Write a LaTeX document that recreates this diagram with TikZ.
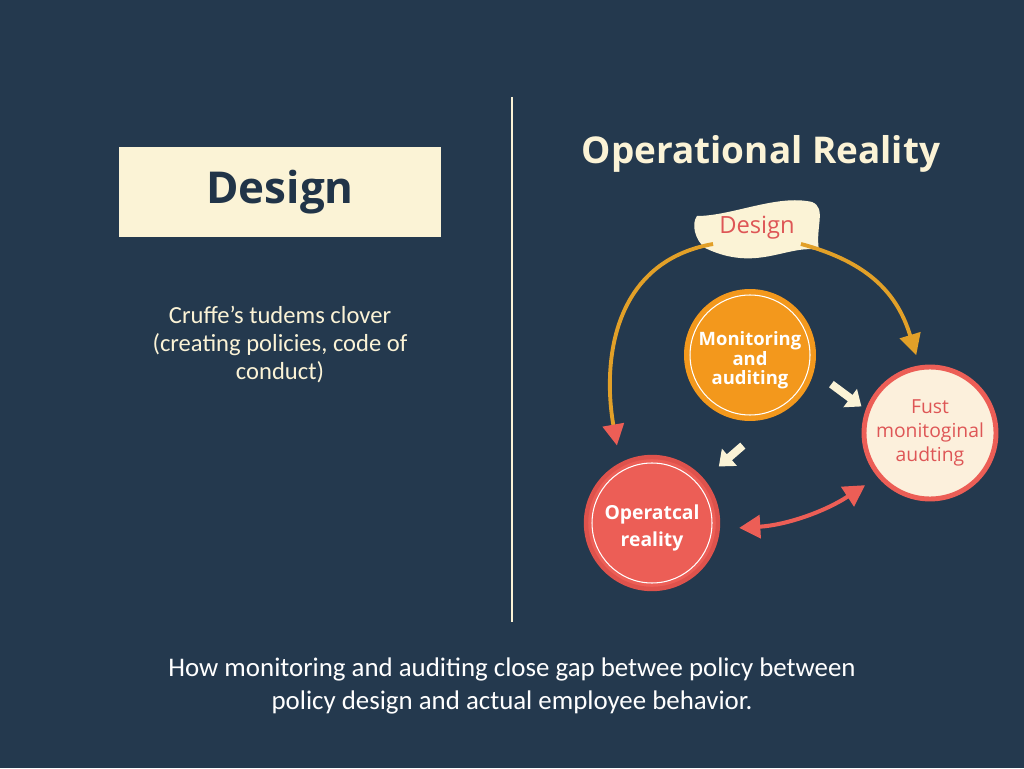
\documentclass[tikz,border=0pt]{standalone}
\usepackage{fontspec}
\setmainfont{Carlito}
\newfontfamily\headfont{Open Sans}
\usetikzlibrary{positioning,calc,arrows.meta}
\definecolor{bgnavy}{RGB}{36,57,78}
\definecolor{cream}{RGB}{251,243,214}
\definecolor{boxnavy}{RGB}{33,52,72}
\definecolor{monorange}{RGB}{243,152,28}
\definecolor{arcorange}{RGB}{226,160,40}
\definecolor{coral}{RGB}{236,94,86}
\definecolor{coraldark}{RGB}{222,82,76}
\definecolor{coraltext}{RGB}{222,86,86}
\definecolor{fustfill}{RGB}{252,240,220}

\begin{document}
\begin{tikzpicture}[x=0.02cm, y=0.02cm,
    stage/.style={circle, minimum size=2.64cm, inner sep=0pt, align=center, line width=2.5pt},
    loop/.style={line width=2.2pt, draw=arcorange},
    nudge/.style={line width=4.5pt, draw=cream, -{Triangle[length=8pt,width=12.5pt]}}
]
    \fill [bgnavy] (0,0) rectangle (1024,768);

    % left half
    \node [fill=cream, minimum width=6.44cm, minimum height=1.8cm, text=boxnavy,
           font=\headfont\bfseries\fontsize{25}{28}\selectfont] (designbox) at (280,576) {Design};
    \node [below=1.25cm of designbox, align=center, text=cream,
           font=\fontsize{14}{16}\selectfont] (claim) {Cruffe's tudems clover\\(creating policies, code of\\conduct)};

    \coordinate (divtop) at (512,671);
    \coordinate (divbot) at (512,146);
    \draw [cream, line width=1.6pt] (divtop) -- (divbot);

    % right half
    \node [text=cream, font=\headfont\bfseries\fontsize{21}{24}\selectfont] (optitle) at (761,614) {Operational Reality};

    \coordinate (blobc) at (757,540);
    \fill [cream, shift={(blobc)}] (-60,12) .. controls (-25,12) and (20,34) .. (55,26)
        .. controls (70,20) and (58,0) .. (62,-22)
        .. controls (30,-16) and (0,-45) .. (-52,-20)
        .. controls (-62,-12) and (-66,4) .. (-60,12) -- cycle;
    \node [text=coraltext, font=\headfont\fontsize{13.5}{15}\selectfont] (design) at (blobc) {Design};

    \node [stage, fill=monorange, text=white, font=\headfont\bfseries\fontsize{10.5}{11}\selectfont] (mon) at (750,413)
        {\rule{0pt}{14pt}Monitoring\\and\\auditing};
    \draw [white, line width=0.6pt] (mon.center) circle [radius=1.2cm];
    \node [stage, fill=fustfill, draw=coral, line width=2.8pt, text=coraltext,
           font=\headfont\fontsize{11}{13.5}\selectfont] (fust) at (930,335) {Fust\\monitoginal\\audting};
    \node [stage, fill=coral, draw=coraldark, text=white, font=\headfont\bfseries\fontsize{11}{15}\selectfont] (op) at (652,245)
        {\rule{0pt}{14pt}Operatcal\\reality};
    \draw [white, line width=0.6pt] (op.center) circle [radius=1.2cm];

    \draw [loop, -{Triangle[length=12pt,width=12pt,color=coral]}, shorten >=10pt]
        (design.200) to[out=190, in=100, looseness=1.1] (op.118);
    \draw [loop, -{Triangle[length=12pt,width=12pt]}, shorten >=6pt]
        (design.-20) to[out=-15, in=107, looseness=1.1] (fust.99);

    \draw [nudge, shorten <=11pt, shorten >=3pt] (mon.-15) -- (fust.160);
    \draw [nudge, shorten <=23pt, shorten >=11pt] (mon.-70) -- (op.40);

    \draw [coral, line width=2.3pt, {Triangle[length=12pt,width=13pt]}-{Triangle[length=12pt,width=13pt]},
           shorten <=11pt, shorten >=8.5pt] (op.-5) to[bend right=15] (fust.-140);

    \node [align=center, text=white, font=\fontsize{15.3}{19}\selectfont] (caption) at (512,82)
        {How monitoring and auditing close gap betwee policy between\\policy design and actual employee behavior.};
\end{tikzpicture}
\end{document}
